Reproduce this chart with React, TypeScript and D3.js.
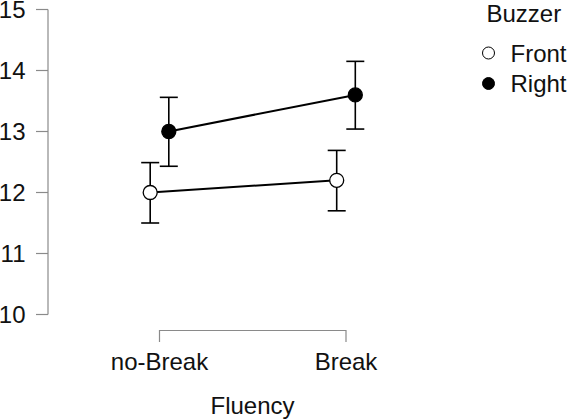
import React from "react";
import * as d3 from "d3";

const categories = ["no-Break", "Break"];
const seriesNames = ["Front", "Right"];
const frontMean = [12.0, 12.2];
const frontLower = [11.5, 11.7];
const frontUpper = [12.49, 12.69];
const rightMean = [13.0, 13.6];
const rightLower = [12.43, 13.04];
const rightUpper = [13.56, 14.15];
const yTicks = [10, 11, 12, 13, 14, 15];

const W = 567;
const H = 420;
const FONT = "'Liberation Sans', Arial, sans-serif";

export default function App() {
  const y = d3.scaleLinear().domain([10, 15]).range([314.5, 9.5]);
  const x = d3.scalePoint<string>().domain(categories).range([159.5, 346]);
  const dodge = d3.scalePoint<string>().domain(seriesNames).range([-9.3, 9.3]);

  const series = [
    { name: "Front", mean: frontMean, lo: frontLower, hi: frontUpper, fill: "#ffffff" },
    { name: "Right", mean: rightMean, lo: rightLower, hi: rightUpper, fill: "#000000" },
  ];

  const line = d3
    .line<[number, number]>()
    .x((d) => d[0])
    .y((d) => d[1]);

  const axisColor = "#8a8a8a";
  const capHalf = 9;
  const fs = 24;

  return (
    <svg
      width={W}
      height={H}
      style={{ position: "absolute", left: 0, top: 0, background: "#fff" }}
      fontFamily={FONT}
    >
      {/* Y axis */}
      <line x1={48} x2={48} y1={y(10)} y2={y(15)} stroke={axisColor} strokeWidth={1.2} />
      {yTicks.map((t) => (
        <g key={t}>
          <line x1={36} x2={48} y1={y(t)} y2={y(t)} stroke={axisColor} strokeWidth={1.2} />
          <text x={25.5} y={y(t) + 8.5} textAnchor="end" fontSize={fs} fill="#111">
            {t}
          </text>
        </g>
      ))}

      {/* X axis bracket */}
      <path
        d={`M${x(categories[0])},342 V330.5 H${x(categories[1])} V342`}
        fill="none"
        stroke={axisColor}
        strokeWidth={1.2}
      />
      {categories.map((c) => (
        <text key={c} x={x(c)} y={370} textAnchor="middle" fontSize={fs} fill="#111">
          {c}
        </text>
      ))}
      <text x={252.5} y={414} textAnchor="middle" fontSize={fs} fill="#111">
        Fluency
      </text>

      {/* Series */}
      {series.map((s) => {
        const pts: [number, number][] = categories.map((c, i) => [
          (x(c) as number) + (dodge(s.name) as number),
          y(s.mean[i]),
        ]);
        return (
          <g key={s.name}>
            <path d={line(pts) || ""} fill="none" stroke="#000" strokeWidth={2} />
            {categories.map((c, i) => {
              const cx = (x(c) as number) + (dodge(s.name) as number);
              return (
                <g key={c}>
                  <line x1={cx} x2={cx} y1={y(s.lo[i])} y2={y(s.hi[i])} stroke="#000" strokeWidth={1.6} />
                  <line x1={cx - capHalf} x2={cx + capHalf} y1={y(s.hi[i])} y2={y(s.hi[i])} stroke="#000" strokeWidth={1.6} />
                  <line x1={cx - capHalf} x2={cx + capHalf} y1={y(s.lo[i])} y2={y(s.lo[i])} stroke="#000" strokeWidth={1.6} />
                  <circle cx={cx} cy={y(s.mean[i])} r={7} fill={s.fill} stroke="#000" strokeWidth={1.3} />
                </g>
              );
            })}
          </g>
        );
      })}

      {/* Legend */}
      <text x={486.5} y={22} fontSize={fs} fill="#111">
        Buzzer
      </text>
      {series.map((s, i) => (
        <g key={s.name}>
          <circle cx={488.5} cy={53 + i * 30.5} r={6} fill={s.fill} stroke="#000" strokeWidth={1} />
          <text x={510.5} y={61.5 + i * 30.5} fontSize={fs} fill="#111">
            {s.name}
          </text>
        </g>
      ))}
    </svg>
  );
}
